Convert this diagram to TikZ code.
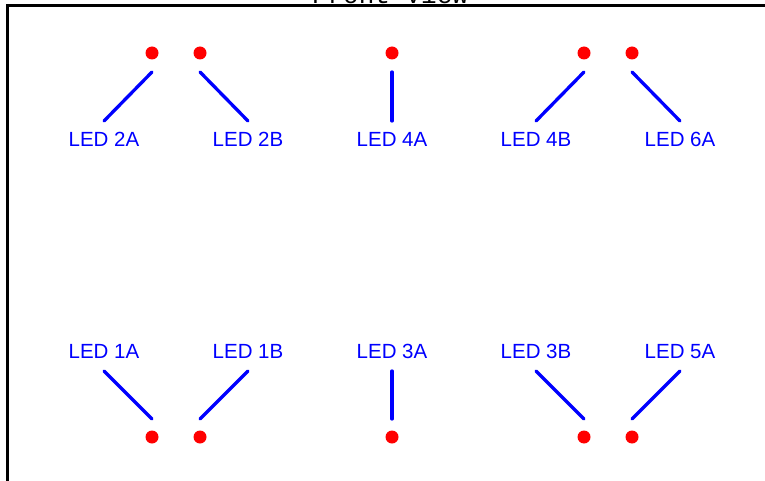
\documentclass[tikz,border=0pt]{standalone}
\usepackage{fontspec}
\setmainfont{Liberation Sans}
\newfontfamily\titlefont{Liberation Mono}
\begin{document}
\begin{tikzpicture}[x=1pt,y=-1pt,
	ledlabel/.style={text=blue,inner sep=0pt,font=\fontsize{20.5}{24}\selectfont},
	ledwire/.style={draw=blue,line width=3.3pt,line cap=round}]
\useasboundingbox (0,0) rectangle (765,481);
\clip (0,0) rectangle (765,481);
% panel frame and title
\coordinate[] (FB) at (7.5,530);
\coordinate[] (FC) at (7.5,5.5);
\coordinate[] (FR) at (800,5.5);
\draw [line width=3.2pt] (FB) -- (FC) -- (FR);
\node[anchor=base,inner sep=0pt,font=\titlefont\fontsize{26}{28}\selectfont] (title) at (390,4) {Front View};
% upper row
\coordinate[] (D2A) at (152,53);
\coordinate[] (D2B) at (200,53);
\coordinate[] (D4A) at (392,53);
\coordinate[] (D4B) at (584,53);
\coordinate[] (D6A) at (632,53);
\node[ledlabel] (L2A) at (104,139.5) {LED 2A};
\node[ledlabel] (L2B) at (248,139.5) {LED 2B};
\node[ledlabel] (L4A) at (392,139.5) {LED 4A};
\node[ledlabel] (L4B) at (536,139.5) {LED 4B};
\node[ledlabel] (L6A) at (680,139.5) {LED 6A};
\coordinate[] (W2A) at (152,72);  \coordinate[] (E2A) at (104,121);
\coordinate[] (W2B) at (200,72);  \coordinate[] (E2B) at (248,121);
\coordinate[] (W4A) at (392,72);  \coordinate[] (E4A) at (392,121);
\coordinate[] (W4B) at (584,72);  \coordinate[] (E4B) at (536,121);
\coordinate[] (W6A) at (632,72);  \coordinate[] (E6A) at (680,121);
% lower row
\coordinate[] (D1A) at (152,437);
\coordinate[] (D1B) at (200,437);
\coordinate[] (D3A) at (392,437);
\coordinate[] (D3B) at (584,437);
\coordinate[] (D5A) at (632,437);
\node[ledlabel] (L1A) at (104,351.5) {LED 1A};
\node[ledlabel] (L1B) at (248,351.5) {LED 1B};
\node[ledlabel] (L3A) at (392,351.5) {LED 3A};
\node[ledlabel] (L3B) at (536,351.5) {LED 3B};
\node[ledlabel] (L5A) at (680,351.5) {LED 5A};
\coordinate[] (W1A) at (152,419);  \coordinate[] (E1A) at (104,371);
\coordinate[] (W1B) at (200,419);  \coordinate[] (E1B) at (248,371);
\coordinate[] (W3A) at (392,419);  \coordinate[] (E3A) at (392,371);
\coordinate[] (W3B) at (584,419);  \coordinate[] (E3B) at (536,371);
\coordinate[] (W5A) at (632,419);  \coordinate[] (E5A) at (680,371);
\foreach \p in {1A,1B,2A,2B,3A,3B,4A,4B,5A,6A}
	\draw [ledwire] (W\p) -- (E\p);
\foreach \p in {1A,1B,2A,2B,3A,3B,4A,4B,5A,6A}
	\fill[red] (D\p) circle (6.5pt);
\end{tikzpicture}
\end{document}
